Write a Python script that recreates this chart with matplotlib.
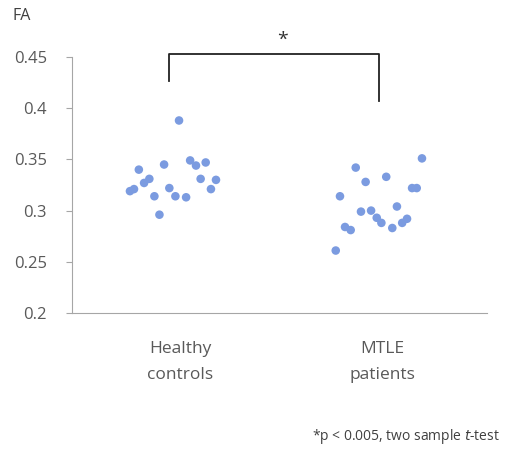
import matplotlib
matplotlib.use("Agg")
import matplotlib.pyplot as plt

categories = ["Healthy\ncontrols", "MTLE\npatients"]
yticks = [0.2, 0.25, 0.3, 0.35, 0.4, 0.45]
ytick_labels = ["0.2", "0.25", "0.3", "0.35", "0.4", "0.45"]

healthy_fa = [0.388, 0.345, 0.340, 0.349, 0.344, 0.347, 0.331, 0.327, 0.319,
              0.321, 0.331, 0.330, 0.321, 0.322, 0.314, 0.314, 0.313, 0.296]
healthy_jitter = [-0.005, -0.079, -0.204, 0.050, 0.079, 0.127, -0.152, -0.178, -0.248,
                  -0.228, 0.102, 0.178, 0.153, -0.053, -0.127, -0.023, 0.030, -0.102]

mtle_fa = [0.351, 0.342, 0.333, 0.328, 0.314, 0.322, 0.322, 0.304, 0.299,
           0.300, 0.293, 0.288, 0.284, 0.281, 0.283, 0.288, 0.292, 0.261]
mtle_jitter = [0.198, -0.130, 0.021, -0.081, -0.208, 0.149, 0.172, 0.074, -0.104,
               -0.054, -0.026, -0.003, -0.183, -0.155, 0.051, 0.100, 0.124, -0.229]

txt = "#595959"
dot = "#7b9be0"

fig = plt.figure(figsize=(5.07, 4.49), dpi=100)
ax = fig.add_axes([72/507, (449-313)/449, (487-72)/507, (313-57)/449])

ax.scatter([0 + j for j in healthy_jitter], healthy_fa, s=38, color=dot, edgecolors="none", zorder=3)
ax.scatter([1 + j for j in mtle_jitter], mtle_fa, s=38, color=dot, edgecolors="none", zorder=3)

ax.set_xlim(-0.535, 1.52)
ax.set_ylim(0.2, 0.45)
ax.set_yticks(yticks)
ax.set_yticklabels(ytick_labels)
ax.set_xticks([0, 1])
ax.set_xticklabels(categories)

for s in ["top", "right"]:
    ax.spines[s].set_visible(False)
for s in ["left", "bottom"]:
    ax.spines[s].set_color("#a6a6a6")
    ax.spines[s].set_linewidth(0.8)

ax.tick_params(axis="y", colors="#a6a6a6", labelcolor=txt, length=4, width=0.8,
               labelsize=12, pad=14)
ax.tick_params(axis="x", length=0, labelcolor=txt, labelsize=12.5, pad=20)
for lab in ax.get_yticklabels() + ax.get_xticklabels():
    lab.set_fontfamily("Open Sans")
for lab in ax.get_xticklabels():
    lab.set_linespacing(1.85)

# significance bracket
ax.plot([-0.054, -0.054, 0.985, 0.985], [0.4266, 0.453, 0.453, 0.407],
        color="#222222", lw=1.3, clip_on=False)
fig.text(283/507, 1 - 40/449, "*", ha="center", va="center", fontsize=14,
         color="#333333", family="Open Sans")

fig.text(22/507, 1 - 16/449, "FA", ha="center", va="center", fontsize=11.5,
         color="#404040", family="Open Sans")

fig.text(500/507, 1 - 436/449, "*p < 0.005, two sample $t$-test", ha="right",
         va="center", fontsize=10, color="#404040", family="Open Sans")

fig.savefig("out.png", dpi=100)
